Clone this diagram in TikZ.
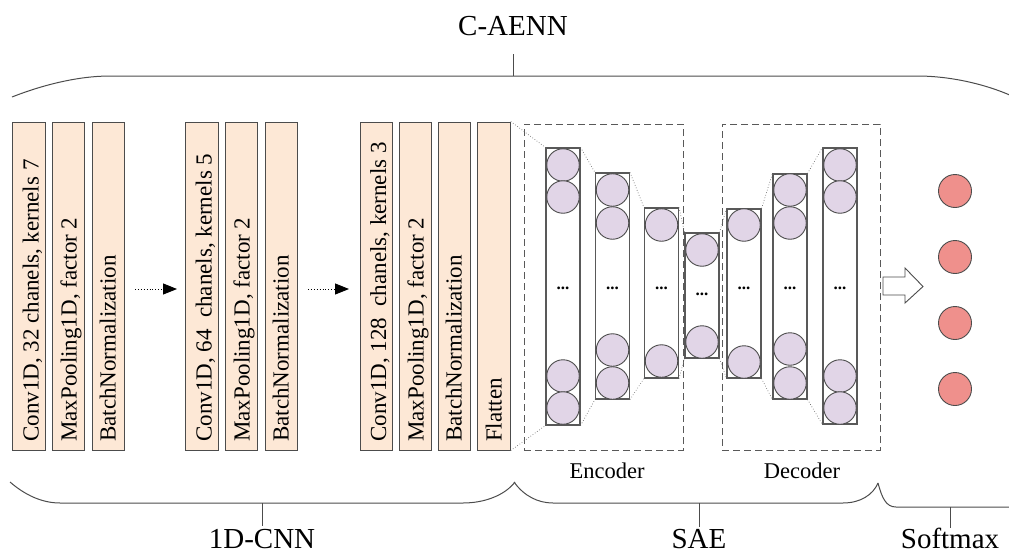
\documentclass[tikz,border=0pt]{standalone}
\usepackage{fontspec}
\setmainfont{Liberation Serif}
\usetikzlibrary{arrows.meta}
\definecolor{peach}{HTML}{FDE8D6}
\definecolor{nfill}{HTML}{E1D5E7}
\definecolor{sfill}{HTML}{EF908C}
\begin{document}
\begin{tikzpicture}[x=1pt,y=-1pt,
  cnnbox/.style={draw=black!70, fill=peach, line width=1pt, minimum width=32.5pt, minimum height=328pt, inner sep=0pt},
  lbl/.style={rotate=90, anchor=base west, inner sep=0pt, font=\fontsize{23}{25}\selectfont},
  layer/.style={draw=black!65, line width=1.1pt, fill=white, inner sep=0pt, minimum width=34pt},
  neuron/.style={circle, draw=black!70, fill=nfill, line width=0.9pt, minimum size=32.5pt, inner sep=0pt},
  outn/.style={circle, draw=black!70, fill=sfill, line width=0.9pt, minimum size=33pt, inner sep=0pt},
  dashbox/.style={draw=black!65, dash pattern=on 7pt off 4pt, line width=1pt, inner sep=0pt},
  link/.style={draw=black!55, dotted, line width=0.7pt},
  flow/.style={draw=black, dotted, line width=0.9pt, -{Triangle[length=14pt,width=11pt]}},
  brace/.style={draw=black!70, line width=1pt},
  bigl/.style={font=\fontsize{29}{31}\selectfont, inner sep=0pt, anchor=base, text depth=0pt},
  subl/.style={font=\fontsize{22.5}{24}\selectfont, inner sep=0pt, anchor=base},
  dots/.style={font=\bfseries\fontsize{17}{17}\selectfont, inner sep=0pt, anchor=base}]
\useasboundingbox (0,0) rectangle (1009,554);

% ---- 1D-CNN boxes
\node[cnnbox] (b1) at (29,286) {};
\node[cnnbox] (b2) at (68.5,286) {};
\node[cnnbox] (b3) at (108.5,286) {};
\node[cnnbox] (b4) at (202,286) {};
\node[cnnbox] (b5) at (241.5,286) {};
\node[cnnbox] (b6) at (281.5,286) {};
\node[cnnbox] (b7) at (376.5,286) {};
\node[cnnbox] (b8) at (415.5,286) {};
\node[cnnbox] (b9) at (454.5,286) {};
\node[cnnbox] (b10) at (494,286) {};

\node[lbl] (t1) at (38.5,442) {Conv1D, 32 chanels, kernels 7};
\node[lbl] (t2) at (76.5,442) {MaxPooling1D, factor 2};
\node[lbl] (t3) at (115.5,442) {BatchNormalization};
\node[lbl] (t4) at (211.5,442) {Conv1D, 64~ chanels, kernels 5};
\node[lbl] (t5) at (249.5,442) {MaxPooling1D, factor 2};
\node[lbl] (t6) at (288.5,442) {BatchNormalization};
\node[lbl] (t7) at (386,442) {Conv1D, 128~ chanels, kernels 3};
\node[lbl] (t8) at (423.5,442) {MaxPooling1D, factor 2};
\node[lbl] (t9) at (461.5,442) {BatchNormalization};
\node[lbl] (t10) at (501.5,442) {Flatten};

\coordinate (a1s) at (135,289);
\coordinate (a1e) at (177,289);
\coordinate (a2s) at (308,289);
\coordinate (a2e) at (349,289);
\draw[flow] (a1s) -- (a1e);
\draw[flow] (a2s) -- (a2e);

% ---- SAE dashed boxes
\node[dashbox, minimum width=159pt, minimum height=326pt] (enc) at (603.5,287) {};
\node[dashbox, minimum width=158pt, minimum height=326pt] (dec) at (801,287) {};

% ---- layers
\node[layer, minimum height=277pt] (e1) at (563,286.5) {};
\node[layer, minimum height=226pt] (e2) at (612.5,286) {};
\node[layer, minimum height=170pt] (e3) at (661.5,293) {};
\node[layer, minimum height=125pt] (m) at (702,295.5) {};
\node[layer, minimum height=169pt] (d1) at (744,293.5) {};
\node[layer, minimum height=225pt] (d2) at (790,286.5) {};
\node[layer, minimum height=276pt] (d3) at (840,286) {};

\draw[link] (b10.north east) -- (e1.north west);
\draw[link] (b10.south east) -- (e1.south west);
\draw[link] (e1.north east) -- (e2.north west);
\draw[link] (e1.south east) -- (e2.south west);
\draw[link] (e2.north east) -- (e3.north west);
\draw[link] (e2.south east) -- (e3.south west);
\draw[link] (e3.north east) -- (m.north west);
\draw[link] (e3.south east) -- (m.south west);
\draw[link] (m.north east) -- (d1.north west);
\draw[link] (m.south east) -- (d1.south west);
\draw[link] (d1.north east) -- (d2.north west);
\draw[link] (d1.south east) -- (d2.south west);
\draw[link] (d2.north east) -- (d3.north west);
\draw[link] (d2.south east) -- (d3.south west);

% neurons
\node[neuron] (e1a) at (563,165) {};
\node[neuron] (e1b) at (563,197) {};
\node[neuron] (e1c) at (563,376) {};
\node[neuron] (e1d) at (563,408) {};
\node[neuron] (e2a) at (612.5,190) {};
\node[neuron] (e2b) at (612.5,223) {};
\node[neuron] (e2c) at (612.5,350) {};
\node[neuron] (e2d) at (612.5,383) {};
\node[neuron] (e3a) at (661.5,225) {};
\node[neuron] (e3b) at (661.5,361) {};
\node[neuron] (ma) at (702,250) {};
\node[neuron] (mb) at (702,342) {};
\node[neuron] (d1a) at (744,225) {};
\node[neuron] (d1b) at (744,362) {};
\node[neuron] (d2a) at (790,190) {};
\node[neuron] (d2b) at (790,223) {};
\node[neuron] (d2c) at (790,349) {};
\node[neuron] (d2d) at (790,383) {};
\node[neuron] (d3a) at (840,165) {};
\node[neuron] (d3b) at (840,197) {};
\node[neuron] (d3c) at (840,376) {};
\node[neuron] (d3d) at (840,408) {};

\node[dots] (x1) at (563,289) {...};
\node[dots] (x2) at (612.5,289) {...};
\node[dots] (x3) at (661.5,289) {...};
\node[dots] (x4) at (702,295) {...};
\node[dots] (x5) at (744,289) {...};
\node[dots] (x6) at (790,289) {...};
\node[dots] (x7) at (840,289) {...};

\node[subl] (encl) at (607,478) {Encoder};
\node[subl] (decl) at (802,478) {Decoder};

% ---- hollow arrow
\draw[draw=black!70, fill=white, line width=0.9pt]
  (883,277) -- (905,277) -- (905,268) -- (923,286.5) -- (905,303) -- (905,295) -- (883,295) -- cycle;

% ---- softmax outputs
\node[outn] (s1) at (955,191) {};
\node[outn] (s2) at (955,257) {};
\node[outn] (s3) at (955,323) {};
\node[outn] (s4) at (955,389) {};

% ---- braces and labels
\draw[brace] (12,97) .. controls (45,84) and (80,76) .. (110,76) -- (917,76) .. controls (950,76) and (985,84) .. (1012,96);
\coordinate (topt) at (513,76);
\coordinate (topl) at (513,54);
\draw[brace] (topt) -- (topl);
\node[bigl] (caenn) at (513,35) {C-AENN};

\draw[brace] (10,482) .. controls (25,495) and (42,503) .. (60,503) -- (463,503) .. controls (485,503) and (505,495) .. (515,482);
\coordinate (cnnt) at (262,503);
\coordinate (cnnl) at (262,526);
\draw[brace] (cnnt) -- (cnnl);
\node[bigl] (cnn) at (262,548) {1D-CNN};

\draw[brace] (514,482) .. controls (524,496) and (538,503) .. (553,503) -- (843,503) .. controls (860,503) and (873,495) .. (878,483);
\coordinate (saet) at (699,503);
\coordinate (sael) at (699,527);
\draw[brace] (saet) -- (sael);
\node[bigl] (sae) at (699,548) {SAE};

\draw[brace] (878,483) .. controls (882,498) and (886,507) .. (896,507) -- (1012,507);
\coordinate (smt) at (950,507);
\coordinate (sml) at (950,528);
\draw[brace] (smt) -- (sml);
\node[bigl] (sm) at (950,548) {Softmax};
\end{tikzpicture}
\end{document}
